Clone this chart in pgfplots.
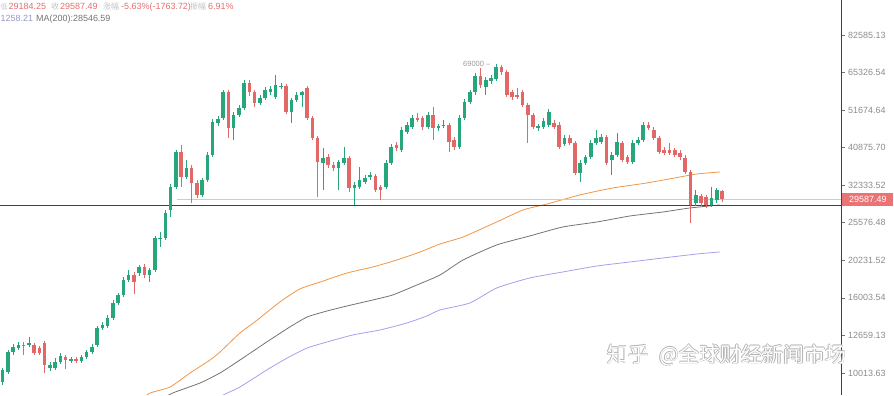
\documentclass[border=0pt]{standalone}
\usepackage{pgfplots}
\pgfplotsset{compat=1.18}
\usepackage{pgfplotstable}
\usepackage{fontspec}
\setmainfont{Liberation Sans}
\newfontfamily\cjk{Noto Sans CJK SC}
\definecolor{up}{RGB}{38,166,122}
\definecolor{dn}{RGB}{226,104,104}
\definecolor{maor}{RGB}{240,150,70}
\definecolor{magr}{RGB}{115,115,115}
\definecolor{mapu}{RGB}{175,155,235}
\definecolor{ticklbl}{RGB}{140,140,140}
\definecolor{numred}{RGB}{230,110,110}
\definecolor{lbl}{RGB}{195,195,195}
\definecolor{pricebox}{RGB}{235,115,115}
\definecolor{purplegray}{RGB}{150,150,200}

\pgfplotstableread{
i o h l c d
1 9469 10334 9294 10206 1
2 10079 11563 9954 11420 1
3 11420 12004 11207 11781 1
4 11708 12155 11563 11929 1
5 11929 12155 11207 11855 0
6 11929 12540 11781 12080 1
7 11929 12080 11207 11348 0
8 11708 11855 11207 11348 0
9 12080 12231 10017 10529 0
10 10334 10728 10143 10529 1
11 10334 10999 10206 10728 1
12 10728 11348 10595 11137 1
13 11068 11207 10269 10863 0
14 10795 11068 10661 10931 1
15 10931 11068 10661 10795 0
16 10795 11207 10661 11068 1
17 11068 11563 10931 11420 1
18 11420 12004 11278 11781 1
19 11929 13432 11781 13265 1
20 13265 13771 13101 13516 1
21 13432 14386 13265 14119 1
22 14119 15798 13944 15505 1
23 15505 16504 15313 16299 1
24 16299 18237 16097 17899 1
25 17899 19052 17677 18466 1
26 18466 18816 16401 17677 0
27 18698 19656 18351 19412 1
28 19412 19779 18123 18466 0
29 18466 19291 17677 19052 1
30 19052 23556 18816 23263 1
31 23118 24151 21993 23263 1
32 23263 27705 22975 27191 1
33 27705 32586 26521 31982 1
34 31982 40290 31585 39790 1
35 39790 41567 31982 34041 0
36 34041 37852 33619 36008 1
37 36008 36689 28943 32790 0
38 32790 33410 29859 30424 0
39 30424 33829 30046 33410 1
40 33410 39790 32995 39052 1
41 39052 48889 38567 47983 1
42 47684 49814 46800 48889 1
43 49196 58590 48586 57863 1
44 57863 58590 43423 46219 0
45 46219 51073 42884 50126 1
46 50126 53354 49504 52364 1
47 52364 62363 51715 61206 1
48 61206 62363 56437 57863 0
49 57863 58590 52692 54023 0
50 54023 56790 53354 55736 1
51 55736 59697 55045 58590 1
52 57863 60071 56790 58956 1
53 56085 64340 55389 60447 1
54 59697 61206 58956 60071 1
55 60071 60824 50439 51073 0
56 51073 55736 47684 55045 1
57 55045 57863 54362 56790 1
58 56790 58226 52692 57863 1
59 59325 60071 48586 49196 0
60 49196 49814 42884 43423 0
61 43423 43969 30046 37382 0
62 37149 40796 31389 38327 1
63 38567 39296 36008 36689 0
64 36689 37382 35341 36008 0
65 36008 37852 31389 37382 1
66 37149 41051 36689 38327 1
67 38327 38809 30999 31783 0
68 31783 32995 28584 32384 1
69 31982 36234 31585 33410 1
70 32995 34469 32586 33829 1
71 34041 35121 33410 34469 1
72 34255 34685 30999 31389 0
73 31982 32384 29490 31389 0
74 31982 37852 31585 37149 1
75 37149 41826 36689 41051 1
76 41567 42352 40039 40796 0
77 40290 46509 39790 45646 1
78 45080 47983 44520 47093 1
79 46509 50126 45931 49196 1
80 49196 50755 47983 48586 0
81 49196 49814 45646 46509 0
82 46509 51073 45931 50126 1
83 50126 52692 42884 46219 0
84 46219 47387 45362 46800 1
85 46800 48586 46219 47093 1
86 47093 47684 39790 42352 0
87 42884 43695 40290 41051 0
88 41051 50126 40542 49196 1
89 49196 55389 48586 54362 1
90 54362 58590 53687 57863 1
91 57863 65147 56790 63940 1
92 63940 67212 59325 60447 0
93 59697 63544 56790 62363 1
94 61975 64340 60824 63146 1
95 62753 68911 61975 67633 1
96 67633 68483 64340 65555 0
97 65555 66379 56085 56790 0
98 57863 58590 55045 56085 0
99 56790 59325 55389 56085 0
100 57863 58590 52692 53354 0
101 53354 54023 42088 50126 0
102 50126 50755 45931 46509 0
103 46219 47387 45362 46800 1
104 46509 49196 45931 48284 1
105 47093 52038 46509 51073 1
106 47684 48586 45931 46509 0
107 47093 47983 40542 41051 0
108 41826 44244 41308 43423 1
109 43423 44244 41567 42088 0
110 42088 42617 34469 34902 0
111 34902 37852 32995 37149 1
112 37149 39052 36689 38567 1
113 38567 42884 38089 42088 1
114 42088 45646 41567 43423 1
115 42352 44520 41826 43695 1
116 43695 44244 36689 37149 0
117 37852 39790 34469 39052 1
118 39052 44799 38567 42352 1
119 42088 42617 37382 37852 0
120 38567 39052 36918 37382 0
121 37382 42884 36918 42088 1
122 42088 43695 41567 42884 1
123 42884 47983 42352 47093 1
124 47093 47983 45646 46219 0
125 45646 46509 42884 43423 0
126 43423 43969 39296 39790 0
127 40290 41051 39052 39542 0
128 40290 42088 39052 39542 0
129 40290 40796 38567 39052 0
130 39542 40290 37852 38567 0
131 38327 39052 34685 35121 0
132 35121 35562 25546 28584 0
133 28943 31389 28406 30424 1
134 30235 30615 28406 28943 0
135 30046 30424 28053 28584 0
136 28584 31982 28229 29859 1
137 29490 31783 28943 31389 1
138 31100 31350 29184 29587 0
}\candles

\pgfplotstableread{
i v
27.2 8464
29.1 8841
32.9 9179
36.7 10017
40.5 10863
42.4 11420
46.2 12858
49.5 13944
53.8 15602
57.6 16921
61.5 17677
66.6 18698
71.5 19412
76.1 20279
80.5 21317
84.3 22408
88.7 23409
95.1 25706
100.1 27705
104.7 28762
110.9 30424
117.2 31783
123.7 32790
130.0 34041
133.2 34685
137.6 35121
}\maorange

\pgfplotstableread{
i v
31.0 8464
33.4 8841
38.6 9410
42.4 10017
46.2 10863
51.3 12155
55.7 13348
59.0 14207
62.8 14750
66.6 15218
71.5 15798
75.3 16299
79.9 17349
84.3 18466
88.7 20279
95.1 22269
101.4 23556
107.7 24916
114.2 25706
120.5 26687
126.8 27361
131.9 28053
137.6 28584
}\magray

\pgfplotstableread{
i v
41.5 8464
43.0 8730
46.2 9179
51.3 10206
55.2 10999
59.0 11708
62.8 12155
67.7 12698
72.9 13101
78.0 13685
81.8 14297
84.3 14842
90.0 15505
95.1 17027
101.4 18123
107.7 18816
114.2 19534
120.5 20027
126.8 20533
133.3 21052
137.6 21317
}\mapurple

\pgfplotstablegetrowsof{\candles}
\pgfmathtruncatemacro{\nrows}{\pgfplotsretval-1}

\begin{document}
\begin{tikzpicture}[x=1bp,y=1bp]
\useasboundingbox (0,0) rectangle (894,395);
\begin{axis}[
  at={(0,0)}, anchor=south west,
  scale only axis, width=841bp, height=395bp,
  xmin=0.486, xmax=160.68,
  ymode=log, ymin=8730, ymax=102750,
  axis x line=none, axis y line*=right,
  axis line style={draw=black!75, line width=0.8bp},
  ytick={10013.63,12659.13,16003.54,20231.52,25576.48,32333.52,40875.70,51674.64,65326.54,82585.13},
  yticklabels={10013.63,12659.13,16003.54,20231.52,25576.48,32333.52,40875.70,51674.64,65326.54,82585.13},
  yminorticks=false,
  tick align=outside,
  major tick length=4bp,
  tick style={draw=black!55, line width=0.6bp},
  yticklabel style={font=\fontsize{9}{10}\selectfont, text=ticklbl, anchor=west, inner sep=0pt, xshift=3bp},
  clip mode=individual,
]
% moving averages
\addplot[forget plot, draw=mapu, line width=0.8bp, smooth, tension=0.35] table[x=i,y=v]{\mapurple};
\addplot[forget plot, draw=magr, line width=0.8bp, smooth, tension=0.35] table[x=i,y=v]{\magray};
\addplot[forget plot, draw=maor, line width=0.8bp, smooth, tension=0.35] table[x=i,y=v]{\maorange};
% horizontal price lines
\addplot[forget plot, draw=black!20, line width=0.6bp] coordinates {(34.2,29587.49) (160.68,29587.49)};
\addplot[forget plot, draw=black!75, line width=1.2bp] coordinates {(0.486,28546.59) (160.68,28546.59)};
% candles
\pgfplotsforeachungrouped \r in {0,...,\nrows}{%
  \pgfplotstablegetelem{\r}{i}\of\candles \let\ci\pgfplotsretval
  \pgfplotstablegetelem{\r}{o}\of\candles \let\co\pgfplotsretval
  \pgfplotstablegetelem{\r}{h}\of\candles \let\ch\pgfplotsretval
  \pgfplotstablegetelem{\r}{l}\of\candles \let\cl\pgfplotsretval
  \pgfplotstablegetelem{\r}{c}\of\candles \let\cc\pgfplotsretval
  \pgfplotstablegetelem{\r}{d}\of\candles
  \ifnum\pgfplotsretval=1 \def\ccol{up}\else\def\ccol{dn}\fi
  \edef\tmp{%
    \noexpand\addplot[forget plot, draw=\ccol, line width=0.8bp] coordinates {(\ci,\cl) (\ci,\ch)};
    \noexpand\addplot[forget plot, draw=\ccol, line width=3.6bp, line cap=butt] coordinates {(\ci,\co) (\ci,\cc)};
  }%
  \tmp
}
% annotations
\node[anchor=east, inner sep=0pt, text=black!40, font=\fontsize{7.5}{8}\selectfont] at (axis cs:93.9,68911) {69000 --};
\node[anchor=west, fill=pricebox, text=white, inner sep=0pt, minimum width=51bp, minimum height=13bp, font=\fontsize{9}{10}\selectfont] at (axis cs:160.9,29587.49) {29587.49};
\end{axis}
% header texts
\node[anchor=base west, inner sep=0pt, text=lbl, font=\cjk\fontsize{7}{8}\selectfont] at (0.5,385.5) {低};
\node[anchor=base west, inner sep=0pt, text=numred, font=\fontsize{9}{10}\selectfont] at (8.5,385.5) {29184.25};
\node[anchor=base west, inner sep=0pt, text=lbl, font=\cjk\fontsize{8}{9}\selectfont] at (51,385.5) {收};
\node[anchor=base west, inner sep=0pt, text=numred, font=\fontsize{9}{10}\selectfont] at (60,385.5) {29587.49};
\node[anchor=base west, inner sep=0pt, text=lbl, font=\cjk\fontsize{8}{9}\selectfont] at (103,385.5) {涨幅};
\node[anchor=base west, inner sep=0pt, text=numred, font=\fontsize{9}{10}\selectfont] at (121,385.5) {-5.63\%(-1763.72)};
\node[anchor=base west, inner sep=0pt, text=lbl, font=\cjk\fontsize{8}{9}\selectfont] at (190,385.5) {振幅};
\node[anchor=base west, inner sep=0pt, text=numred, font=\fontsize{9}{10}\selectfont] at (208,385.5) {6.91\%};
\node[anchor=base west, inner sep=0pt, text=purplegray, font=\fontsize{9}{10}\selectfont] at (0.5,374) {1258.21};
\node[anchor=base west, inner sep=0pt, text=black!55, font=\fontsize{9}{10}\selectfont] at (36,374) {MA(200):28546.59};
% watermark
\foreach \dx/\dy in {-0.7/0,0.7/0,0/-0.7,0/0.7}{
  \node[anchor=west, inner sep=0pt, text=black!30, font=\cjk\fontsize{21}{22}\selectfont] at (607+\dx,40+\dy) {知乎\hspace{10bp}@全球财经新闻市场};
}
\node[anchor=west, inner sep=0pt, text=white, font=\cjk\fontsize{21}{22}\selectfont] at (607,40) {知乎\hspace{10bp}@全球财经新闻市场};
\end{tikzpicture}
\end{document}
